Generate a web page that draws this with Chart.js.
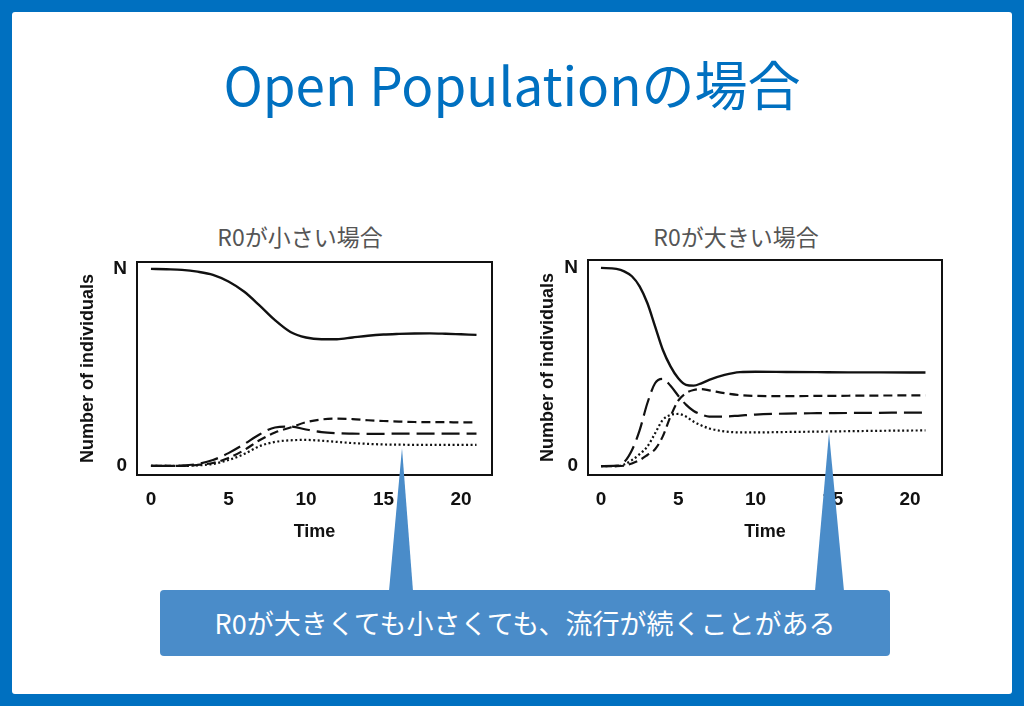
<!DOCTYPE html>
<html>
<head>
<meta charset="utf-8">
<script src="https://cdn.jsdelivr.net/npm/chart.js@4.4.1/dist/chart.umd.min.js"></script>
<style>
  html, body { margin: 0; padding: 0; }
  body {
    width: 1024px; height: 706px; background: #0070c0;
    position: relative; overflow: hidden;
    font-family: "Noto Sans CJK JP", "Noto Sans", sans-serif;
  }
  #slide { position: absolute; left: 12px; top: 12px; width: 1000px; height: 682px; background: #fff; border-radius: 3px; }
  #title { position: absolute; left: 0; top: 56px; width: 1024px; text-align: center; color: #0070c0; font-size: 53px; line-height: 54px; }
  .sub { position: absolute; top: 225px; width: 300px; text-align: center; color: #555; font-size: 23px; line-height: 23px; }
  .box { position: absolute; }
  #callout {
    position: absolute; left: 160px; top: 590px; width: 730px; height: 66px;
    background: #4a8cc9; border-radius: 4px; color: #fff;
    font-size: 27px; line-height: 66px; text-align: center;
  }
  #pointers { position: absolute; left: 0; top: 0; }
</style>
</head>
<body>
<div id="slide"></div>
<div id="title">Open Populationの場合</div>
<div class="sub" style="left:150px">R0が小さい場合</div>
<div class="sub" style="left:586px">R0が大きい場合</div>

<div class="box" style="left:77px; top:250px; width:423px; height:293px;">
  <canvas id="lowChart" width="423" height="293"></canvas>
</div>
<div class="box" style="left:537px; top:250px; width:413px; height:293px;">
  <canvas id="highChart" width="413" height="293"></canvas>
</div>

<svg id="pointers" width="1024" height="706">
  <polygon points="402,448 389,591 413,591" fill="#4a8cc9" />
  <polygon points="829,433 815,591 844,591" fill="#4a8cc9" />
</svg>
<div id="callout">R0が大きくても小さくても、流行が続くことがある</div>

<script>
// R0 small (left panel)
const lowTime = [0, 1, 2, 3, 4, 5, 6, 7, 8, 9, 10, 11, 12, 13, 14, 15, 16, 17, 18, 19, 20, 21];
const lowSolid = [1.0, 0.998, 0.995, 0.986, 0.97, 0.936, 0.885, 0.815, 0.74, 0.68, 0.652, 0.643, 0.643, 0.652, 0.661, 0.667, 0.67, 0.672, 0.673, 0.671, 0.668, 0.665];
const lowLongDash = [0, 0, 0.002, 0.01, 0.03, 0.065, 0.11, 0.16, 0.195, 0.2, 0.185, 0.172, 0.166, 0.164, 0.163, 0.163, 0.164, 0.164, 0.164, 0.164, 0.164, 0.164];
const lowShortDash = [0, 0, 0, 0.005, 0.015, 0.04, 0.08, 0.13, 0.17, 0.195, 0.222, 0.236, 0.24, 0.238, 0.232, 0.228, 0.225, 0.223, 0.222, 0.222, 0.221, 0.221];
const lowDotted = [0, 0, 0, 0.003, 0.01, 0.03, 0.06, 0.1, 0.122, 0.13, 0.132, 0.128, 0.122, 0.116, 0.112, 0.109, 0.108, 0.107, 0.107, 0.107, 0.107, 0.107];

// R0 large (right panel)
const highTime = [0, 1, 1.5, 2, 2.5, 3, 3.5, 4, 4.5, 5, 5.5, 6, 6.5, 7, 8, 9, 10, 12, 14, 16, 18, 21];
const highSolid = [1.0, 0.995, 0.983, 0.958, 0.907, 0.823, 0.705, 0.587, 0.503, 0.443, 0.41, 0.406, 0.418, 0.435, 0.46, 0.474, 0.476, 0.475, 0.474, 0.473, 0.473, 0.472];
const highLongDash = [0, 0.002, 0.02, 0.08, 0.18, 0.317, 0.418, 0.44, 0.405, 0.355, 0.31, 0.278, 0.26, 0.25, 0.25, 0.255, 0.26, 0.265, 0.267, 0.268, 0.269, 0.27];
const highShortDash = [0, 0, 0.002, 0.013, 0.03, 0.056, 0.085, 0.15, 0.25, 0.33, 0.368, 0.384, 0.388, 0.382, 0.368, 0.358, 0.354, 0.353, 0.354, 0.355, 0.356, 0.357];
const highDotted = [0, 0, 0.008, 0.03, 0.06, 0.098, 0.165, 0.233, 0.258, 0.263, 0.25, 0.224, 0.205, 0.19, 0.175, 0.17, 0.17, 0.172, 0.174, 0.176, 0.178, 0.18];

const xTickValues = [0, 5, 10, 15, 20];
const yTickValues = [0, 1];
const yTickLabels = ["0", "N"];

const ink = "#111";
const boldFont = (size) => ({ family: "'Liberation Sans', Arial, sans-serif", size: size, weight: "bold" });

const framePlugin = {
  id: "frame",
  afterDatasetsDraw(chart) {
    const { ctx, chartArea: a } = chart;
    ctx.save();
    ctx.strokeStyle = ink;
    ctx.lineWidth = 2;
    ctx.strokeRect(a.left, a.top, a.right - a.left, a.bottom - a.top);
    ctx.restore();
  },
};

function lineSet(time, values, dash, width) {
  return {
    data: time.map((t, i) => ({ x: t, y: values[i] })),
    borderColor: ink,
    borderWidth: width,
    borderDash: dash,
    pointRadius: 0,
    fill: false,
    cubicInterpolationMode: "monotone",
  };
}

function makeChart(id, time, solid, longDash, shortDash, dotted, box) {
  return new Chart(document.getElementById(id), {
    type: "line",
    data: {
      datasets: [
        lineSet(time, solid, [], 2.4),
        lineSet(time, longDash, [18, 7], 2.2),
        lineSet(time, shortDash, [9, 5], 2.2),
        lineSet(time, dotted, [2, 2.5], 2.2),
      ],
    },
    options: {
      responsive: false,
      animation: false,
      layout: { padding: { top: box.top, right: box.right, left: 0, bottom: 0 } },
      plugins: { legend: { display: false }, tooltip: { enabled: false } },
      scales: {
        x: {
          type: "linear",
          min: box.xMin,
          max: box.xMax,
          afterBuildTicks: (s) => { s.ticks = xTickValues.map((v) => ({ value: v })); },
          afterFit: (s) => { s.height = 68; s.paddingLeft = 0; s.paddingRight = 0; },
          grid: { display: false, drawTicks: false },
          border: { display: false },
          ticks: { padding: 13, color: ink, font: boldFont(19), maxRotation: 0, autoSkip: false },
          title: { display: true, text: "Time", color: ink, font: boldFont(18), padding: 0 },
        },
        y: {
          type: "linear",
          min: box.yMin,
          max: box.yMax,
          afterBuildTicks: (s) => { s.ticks = yTickValues.map((v) => ({ value: v })); },
          afterFit: (s) => { s.width = box.yWidth; s.paddingTop = 0; s.paddingBottom = 0; },
          grid: { display: false, drawTicks: false },
          border: { display: false },
          ticks: { padding: 10, color: ink, font: boldFont(19), callback: (v, i) => yTickLabels[i] },
          title: { display: true, text: "Number of individuals", color: ink, font: boldFont(18), padding: 0 },
        },
      },
    },
    plugins: [framePlugin],
  });
}

const lowChart = makeChart("lowChart", lowTime, lowSolid, lowLongDash, lowShortDash, lowDotted,
  { top: 12, right: 8, yWidth: 60, xMin: -0.9, xMax: 22.0, yMin: -0.046, yMax: 1.035 });
const highChart = makeChart("highChart", highTime, highSolid, highLongDash, highShortDash, highDotted,
  { top: 10, right: 8, yWidth: 51, xMin: -0.84, xMax: 22.07, yMin: -0.045, yMax: 1.04 });
</script>
</body>
</html>
